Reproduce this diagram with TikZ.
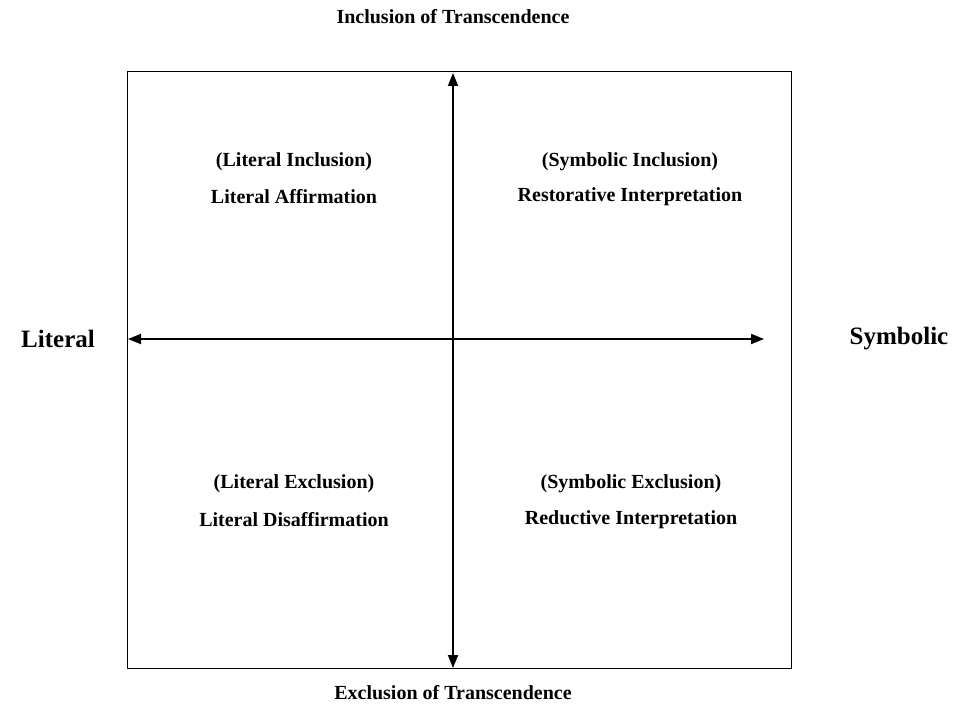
\documentclass[tikz,border=0pt]{standalone}
\usepackage{fontspec}
\setmainfont{Liberation Serif}
\usetikzlibrary{arrows.meta}
\begin{document}
\begin{tikzpicture}[x=1pt,y=-1pt,
  quad/.style={font=\bfseries\fontsize{20}{24}\selectfont, inner sep=0pt, anchor=center},
  ttl/.style={font=\bfseries\fontsize{20}{24}\selectfont, inner sep=0pt, anchor=center},
  side/.style={font=\bfseries\fontsize{25}{30}\selectfont, inner sep=0pt, anchor=center},
  axis/.style={line width=1.8pt, {Triangle[length=13pt,width=10pt]}-{Triangle[length=13pt,width=10pt]}},
  frame/.style={draw, line width=1.4pt}]
\useasboundingbox (0,0) rectangle (953,708);
\node[frame, minimum width=664pt, minimum height=597pt, inner sep=0pt, anchor=north west] (box) at (127,71) {};
\coordinate (top) at (453,73);
\coordinate (bot) at (453,668);
\coordinate (lft) at (128,339);
\coordinate (rgt) at (764,339);
\draw[axis] (bot) -- (top);
\draw[axis] (lft) -- (rgt);
\node[ttl] (tt) at (453,17) {Inclusion of Transcendence};
\node[ttl] (bt) at (453,693) {Exclusion of Transcendence};
\node[side] (ls) at (58,339) {Literal};
\node[side] (rs) at (899,339) {Symbolic};
\node[quad] (q1a) at (294,162) {(Literal Inclusion)};
\node[quad] (q1b) at (294,197) {Literal Affirmation};
\node[quad] (q2a) at (630,162) {(Symbolic Inclusion)};
\node[quad] (q2b) at (630,197) {Restorative Interpretation};
\node[quad] (q3a) at (294,484) {(Literal Exclusion)};
\node[quad] (q3b) at (294,520) {Literal Disaffirmation};
\node[quad] (q4a) at (631,484) {(Symbolic Exclusion)};
\node[quad] (q4b) at (631,520) {Reductive Interpretation};
\end{tikzpicture}
\end{document}
